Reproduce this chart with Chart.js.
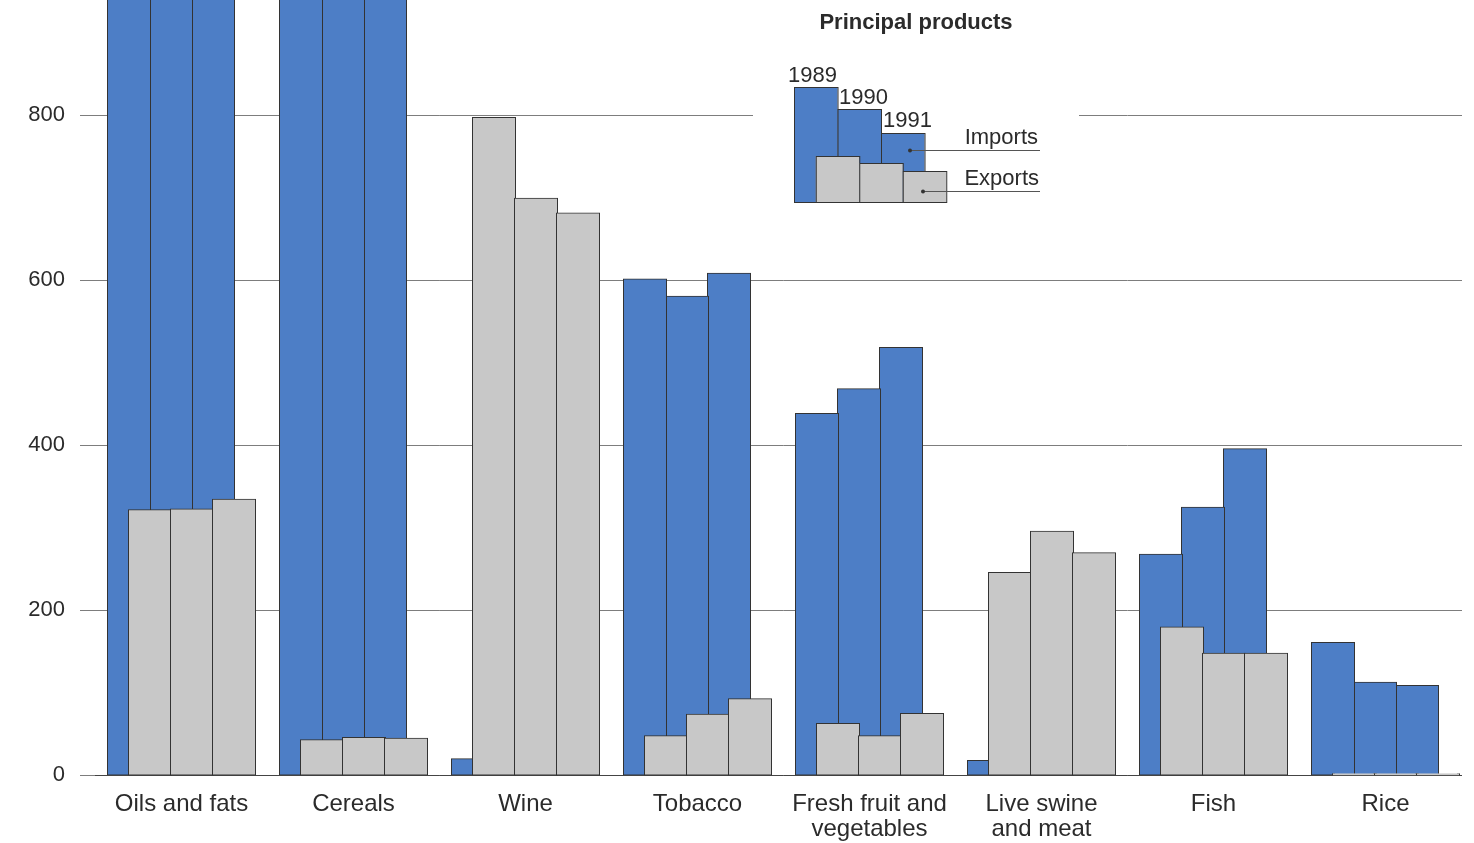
<!DOCTYPE html>
<html>
<head>
<meta charset="utf-8">
<title>Principal products</title>
<style>
html,body{margin:0;padding:0;background:#fff;overflow:hidden;}
canvas{display:block;}
</style>
</head>
<body>
<canvas id="chart" width="1474" height="843"></canvas>
<script src="https://cdn.jsdelivr.net/npm/chart.js@4"></script>
<script>
// values; oils and cereals imports run past the top of the axis
const categories = ['Oils and fats', 'Cereals', 'Wine', 'Tobacco',
  ['Fresh fruit and', 'vegetables'], ['Live swine', 'and meat'], 'Fish', 'Rice'];
const years = ['1989', '1990', '1991'];
const imports1989 = [1210, 1420, 19, 601, 438, 17, 267, 160];
const imports1990 = [1230, 1380, 24, 580, 468, 12, 324, 112];
const imports1991 = [1260, 1450, 34, 608, 518, 1, 395, 108];
const exports1989 = [321, 42, 797, 47, 62, 245, 179, 1];
const exports1990 = [322, 45, 699, 73, 47, 295, 147, 1];
const exports1991 = [334, 44, 681, 92, 74, 269, 147, 1];
const yTicks = [0, 200, 400, 600, 800];
const yMax = 940;

const BLUE = '#4d7ec6', GREY = '#c8c8c8', EDGE = '#333', TEXT = '#2b2b2b';
const FONT = "'Liberation Sans', Arial, sans-serif";

const imports = [imports1989, imports1990, imports1991];
const exportsData = [exports1989, exports1990, exports1991];
const datasets = [];
years.forEach((y, k) => {
  datasets.push({label: 'Imports ' + y, kind: 'imp', data: imports[k], backgroundColor: BLUE});
  datasets.push({label: 'Exports ' + y, kind: 'exp', data: exportsData[k], backgroundColor: GREY});
});

/* exports sit in front of the imports they overlap */
const exportsOnTop = {
  id: 'exportsOnTop',
  beforeDatasetDraw(chart, args){
    if(chart.data.datasets[args.index].kind === 'exp') return false;
  },
  afterDatasetsDraw(chart){
    const a = chart.chartArea, ctx = chart.ctx;
    ctx.save();
    ctx.beginPath();
    ctx.rect(a.left, a.top, a.right - a.left, a.bottom - a.top + 1);
    ctx.clip();
    chart.data.datasets.forEach((d, i) => {
      if(d.kind === 'exp') chart.getDatasetMeta(i).controller.draw();
    });
    ctx.restore();
  }
};

/* the little key in the upper middle, and the gaps in the rules */
const keyBox = {
  id: 'keyBox',
  beforeDatasetsDraw(chart){
    const ctx = chart.ctx;
    ctx.save();
    ctx.fillStyle = '#fff';
    ctx.fillRect(753, 40, 326, 180);
    ctx.fillRect(1462, 0, 12, 777);
    ctx.restore();
  },
  afterDraw(chart){
    const ctx = chart.ctx;
    const w = 43.5, bottom = 202;
    const impTop = [87, 109, 133], expTop = [156, 163, 171];
    const x0 = 794;
    ctx.save();
    ctx.lineWidth = 1;
    ctx.strokeStyle = EDGE;
    impTop.forEach((t, k) => {
      ctx.fillStyle = BLUE;
      ctx.fillRect(x0 + k * w, t, w, bottom - t);
      ctx.strokeRect(x0 + k * w + 0.5, t + 0.5, w, bottom - t);
    });
    expTop.forEach((t, k) => {
      ctx.fillStyle = GREY;
      ctx.fillRect(x0 + w / 2 + k * w, t, w, bottom - t);
      ctx.strokeRect(x0 + w / 2 + k * w + 0.5, t + 0.5, w, bottom - t);
    });
    ctx.fillStyle = TEXT;
    ctx.textBaseline = 'alphabetic';
    ctx.font = 'bold 22px ' + FONT;
    ctx.textAlign = 'center';
    ctx.fillText('Principal products', 916, 29);
    ctx.font = '22px ' + FONT;
    ctx.textAlign = 'left';
    const yearX = [788, 839, 883], yearY = [82, 104, 127];
    years.forEach((y, k) => ctx.fillText(y, yearX[k], yearY[k]));
    ctx.textAlign = 'right';
    ctx.fillText('Imports', 1038, 144);
    ctx.fillText('Exports', 1039, 185);
    ctx.strokeStyle = '#555';
    ctx.beginPath();
    ctx.moveTo(910, 150.5); ctx.lineTo(1040, 150.5);
    ctx.moveTo(923, 191.5); ctx.lineTo(1040, 191.5);
    ctx.stroke();
    ctx.fillStyle = '#333';
    [[910, 150.5], [923, 191.5]].forEach(p => {
      ctx.beginPath(); ctx.arc(p[0], p[1], 2, 0, Math.PI * 2); ctx.fill();
    });
    ctx.restore();
  }
};

new Chart(document.getElementById('chart'), {
  type: 'bar',
  data: {labels: categories, datasets},
  options: {
    responsive: false,
    animation: false,
    events: [],
    layout: {padding: {top: 0, right: 2.5, bottom: 0, left: 0}},
    datasets: {
      bar: {
        categoryPercentage: 126 / 172,
        barPercentage: 2,
        borderWidth: 1,
        borderColor: EDGE,
        borderSkipped: false,
        inflateAmount: 1
      }
    },
    plugins: {legend: {display: false}, tooltip: {enabled: false}},
    scales: {
      x: {
        afterFit: s => { s.height = 68; },
        grid: {display: false, drawTicks: false},
        border: {display: true, color: '#444', width: 1},
        ticks: {
          color: TEXT, font: {family: FONT, size: 24, lineHeight: 1.04},
          padding: 17, maxRotation: 0, autoSkip: false
        }
      },
      y: {
        min: 0, max: yMax,
        afterFit: s => { s.width = 95.5; s.paddingTop = 0; s.paddingBottom = 0; },
        afterBuildTicks: s => { s.ticks = yTicks.map(v => ({value: v})); },
        border: {display: false},
        grid: {color: '#7d7d7d', lineWidth: 1, tickLength: 15.5, tickColor: '#7d7d7d'},
        ticks: {color: TEXT, font: {family: FONT, size: 22}, padding: 15}
      }
    }
  },
  plugins: [exportsOnTop, keyBox]
});
</script>
</body>
</html>
